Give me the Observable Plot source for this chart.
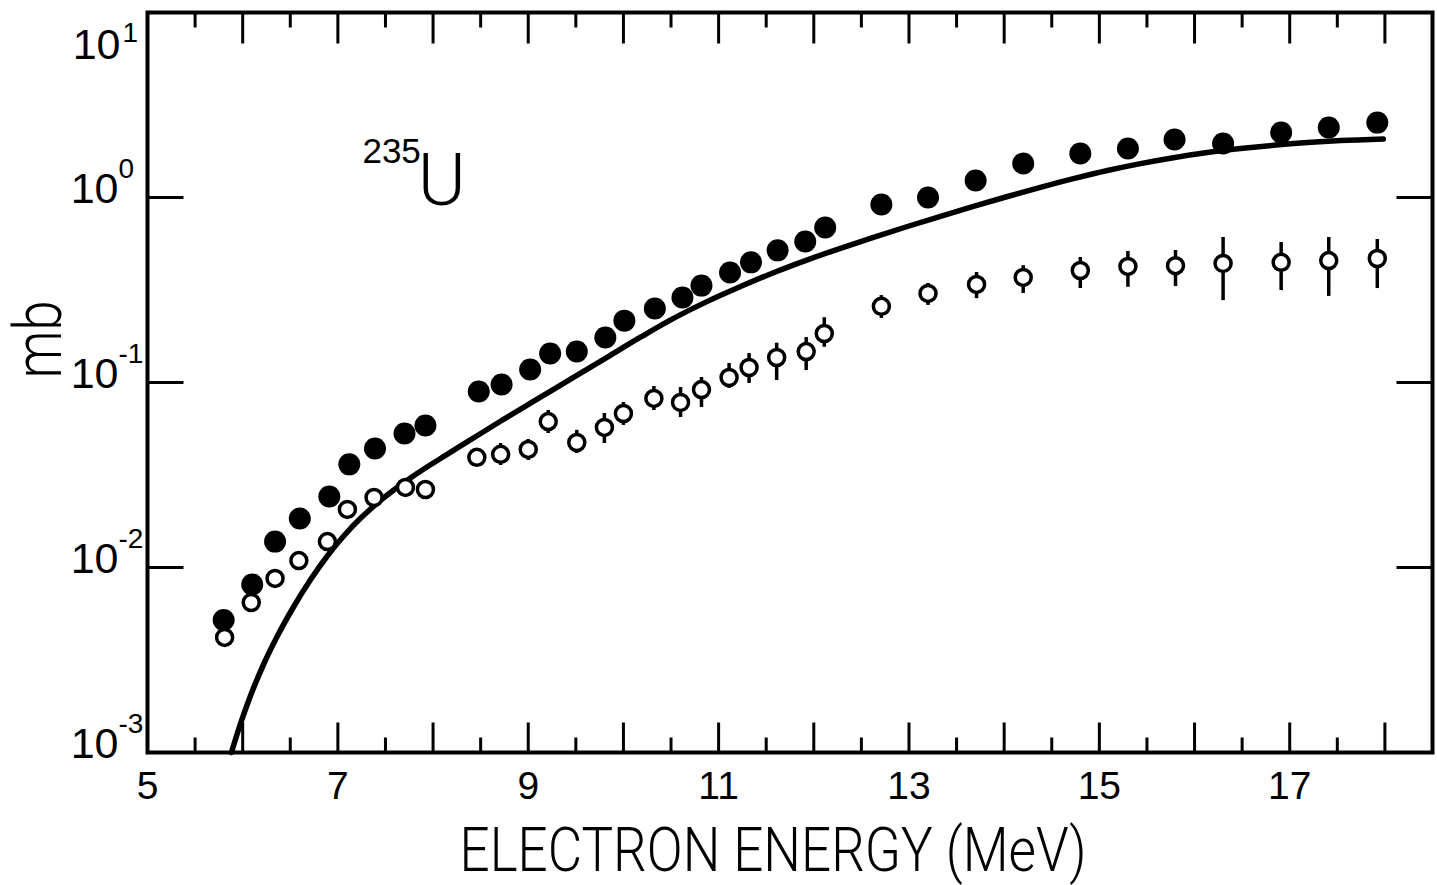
<!DOCTYPE html>
<html>
<head>
<meta charset="utf-8">
<script src="https://cdn.jsdelivr.net/npm/d3@7"></script>
<script src="https://cdn.jsdelivr.net/npm/@observablehq/plot@0.6"></script>
<style>
  html, body { margin: 0; padding: 0; background: #fff; }
  #chart svg { display: block; }
</style>
</head>
<body>
<div id="chart"></div>
<script>
// ---- data (235U, cross section in mb vs electron energy) ----
const filledEnergy = [5.80, 6.10, 6.34, 6.60, 6.91, 7.12, 7.39, 7.70, 7.92, 8.48, 8.72, 9.02, 9.23, 9.51, 9.81, 10.01, 10.33, 10.62, 10.82, 11.12, 11.34, 11.62, 11.91, 12.12, 12.71, 13.20, 13.70, 14.20, 14.80, 15.30, 15.79, 16.30, 16.91, 17.41, 17.92];
const filledSigma  = [0.0052, 0.0081, 0.0138, 0.0184, 0.0242, 0.0361, 0.0440, 0.0530, 0.0586, 0.0894, 0.0975, 0.1175, 0.1436, 0.147, 0.175, 0.216, 0.251, 0.288, 0.334, 0.393, 0.446, 0.518, 0.578, 0.689, 0.917, 1.00, 1.236, 1.527, 1.730, 1.841, 2.06, 1.96, 2.245, 2.39, 2.54];

const openEnergy = [5.81, 6.09, 6.34, 6.59, 6.89, 7.10, 7.38, 7.71, 7.92, 8.46, 8.71, 9.00, 9.21, 9.51, 9.80, 10.00, 10.32, 10.60, 10.82, 11.11, 11.32, 11.61, 11.92, 12.11, 12.71, 13.20, 13.71, 14.20, 14.80, 15.30, 15.80, 16.30, 16.91, 17.41, 17.92];
const openSigma  = [0.00419, 0.00647, 0.00873, 0.0109, 0.0138, 0.0206, 0.0239, 0.0271, 0.0264, 0.0394, 0.0409, 0.0435, 0.0615, 0.0474, 0.0572, 0.068, 0.082, 0.078, 0.0916, 0.1064, 0.1205, 0.1365, 0.147, 0.184, 0.258, 0.303, 0.339, 0.370, 0.403, 0.424, 0.428, 0.440, 0.446, 0.456, 0.468];
const openLow    = [null, null, null, null, null, null, null, null, null, null, 0.0356, 0.0379, 0.0530, 0.0413, 0.0468, 0.0586, 0.0706, 0.0647, 0.0733, 0.0929, 0.0988, 0.1025, 0.116, 0.155, 0.222, 0.261, 0.284, 0.303, 0.322, 0.327, 0.330, 0.277, 0.314, 0.292, 0.322];
const openHigh   = [null, null, null, null, null, null, null, null, null, null, 0.0468, 0.0492, 0.0706, 0.0551, 0.0680, 0.078, 0.0951, 0.0940, 0.1064, 0.1267, 0.1436, 0.163, 0.175, 0.224, 0.295, 0.343, 0.393, 0.428, 0.474, 0.511, 0.517, 0.608, 0.571, 0.608, 0.593];

const curveEnergy = [5.882, 5.977, 6.082, 6.219, 6.366, 6.534, 6.712, 6.891, 7.059, 7.238, 7.416, 7.584, 7.763, 7.973, 8.110, 8.362, 8.708, 9.129, 9.475, 9.832, 10.179, 10.526, 10.883, 11.230, 11.576, 11.933, 12.280, 12.627, 12.984, 13.331, 13.677, 14.035, 14.381, 14.728, 15.085, 15.432, 15.778, 16.135, 16.482, 16.829, 17.186, 17.533, 17.984];
const curveSigma  = [0.00100, 0.001431, 0.002028, 0.002990, 0.004273, 0.006117, 0.008582, 0.01158, 0.01476, 0.01844, 0.02232, 0.02617, 0.03047, 0.03590, 0.03977, 0.04786, 0.06176, 0.08326, 0.1066, 0.1373, 0.1757, 0.2221, 0.2745, 0.3299, 0.3922, 0.4605, 0.5314, 0.6085, 0.6970, 0.7914, 0.8951, 1.0125, 1.1352, 1.2637, 1.3991, 1.5246, 1.6411, 1.7487, 1.8378, 1.9152, 1.9806, 2.0305, 2.0741];

const xTickLabels = [5, 7, 9, 11, 13, 15, 17];
const xMajorTicks = [6, 7, 8, 9, 10, 11, 12, 13, 14, 15, 16, 17, 18];
const xMinorTicks = [5.5, 6.5, 7.5, 8.5, 9.5, 10.5, 11.5, 12.5, 13.5, 14.5, 15.5, 16.5, 17.5];
const yTicks = [0.001, 0.01, 0.1, 1, 10];
const yTickExponents = ["-3", "-2", "-1", "0", "1"];

const xLabel = "ELECTRON ENERGY (MeV)";
const yLabel = "mb";
const nuclideMass = "235";
const nuclideSymbol = "U";
const nuclidePos = { x: 7.84, y: 0.906 };

// ---- tables built from the arrays ----
const filled = filledEnergy.map((x, i) => ({ x, y: filledSigma[i] }));
const open = openEnergy.map((x, i) => ({ x, y: openSigma[i], lo: openLow[i], hi: openHigh[i] }));
const openErr = open.filter(d => d.lo != null);
const curve = curveEnergy.map((x, i) => ({ x, y: curveSigma[i] }));
const yLow = yTicks.map((v, i) => ({ v, e: yTickExponents[i] })).filter(d => d.v < 10);
const yTop = yTicks.map((v, i) => ({ v, e: yTickExponents[i] })).filter(d => d.v >= 10);

const tickShape = { draw(ctx, l) { ctx.moveTo(0, 0); ctx.lineTo(0, -l); } };
const numFont = "Liberation Sans, Arial, Helvetica, sans-serif";
const lightFont = "Roboto, Inter, Lato, 'Open Sans', sans-serif";

const tickOpts = { shape: tickShape, anchor: "start", strokeWidth: 3, strokeLinecap: "butt" };

const plot = Plot.plot({
  width: 1437,
  height: 885,
  marginLeft: 147,
  marginRight: 5,
  marginTop: 12,
  marginBottom: 133,
  style: { background: "#fff", color: "#000", fontFamily: numFont },
  x: { domain: [5, 18.5], axis: null },
  y: { type: "log", domain: [0.001, 10], axis: null },
  marks: [
    // theory curve
    Plot.line(curve, { x: "x", y: "y", curve: "monotone-x", stroke: "#000", strokeWidth: 5.5, strokeLinecap: "round", strokeLinejoin: "round" }),
    // error bars on open points
    Plot.ruleX(openErr, { x: "x", y1: "lo", y2: "hi", stroke: "#000", strokeWidth: 3.5 }),
    Plot.dot(open, { x: "x", y: "y", r: 8, fill: "#fff", stroke: "#000", strokeWidth: 3.5 }),
    Plot.dot(filled, { x: "x", y: "y", r: 11, fill: "#000", stroke: "none" }),
    // frame
    Plot.frame({ stroke: "#000", strokeWidth: 4 }),
    // inward ticks: bottom & top
    Plot.vector(xMajorTicks, { x: d => d, frameAnchor: "bottom", rotate: 0, length: 30, ...tickOpts }),
    Plot.vector(xMinorTicks, { x: d => d, frameAnchor: "bottom", rotate: 0, length: 15, ...tickOpts }),
    Plot.vector(xMajorTicks, { x: d => d, frameAnchor: "top", rotate: 180, length: 31, ...tickOpts }),
    Plot.vector(xMinorTicks, { x: d => d, frameAnchor: "top", rotate: 180, length: 15, ...tickOpts }),
    // inward ticks: left & right
    Plot.vector(yTicks, { y: d => d, frameAnchor: "left", rotate: 90, length: 36, ...tickOpts }),
    Plot.vector(yTicks, { y: d => d, frameAnchor: "right", rotate: -90, length: 36, ...tickOpts }),
    // x tick labels
    Plot.text(xTickLabels, { x: d => d, frameAnchor: "bottom", text: d => String(d), lineAnchor: "top", dy: 19, fontSize: 39, fontFamily: numFont, fill: "#000" }),
    // y tick labels (mantissa + exponent)
    Plot.text(yLow, { y: "v", frameAnchor: "left", text: () => "10", textAnchor: "end", lineAnchor: "middle", dx: -29, dy: -8, fontSize: 43, fontFamily: numFont, fill: "#000" }),
    Plot.text(yLow, { y: "v", frameAnchor: "left", text: "e", textAnchor: "start", lineAnchor: "middle", dx: -29, dy: -28, fontSize: 28, fontFamily: numFont, fill: "#000" }),
    Plot.text(yTop, { y: "v", frameAnchor: "left", text: () => "10", textAnchor: "end", lineAnchor: "middle", dx: -27, dy: 33, fontSize: 43, fontFamily: numFont, fill: "#000" }),
    Plot.text(yTop, { y: "v", frameAnchor: "left", text: "e", textAnchor: "start", lineAnchor: "middle", dx: -25, dy: 21, fontSize: 28, fontFamily: numFont, fill: "#000" }),
    // axis titles
    Plot.text([xLabel], { frameAnchor: "bottom", text: d => d, lineAnchor: "bottom", dy: 118, dx: -17, fontSize: 62, fontWeight: 300, fontFamily: lightFont, fill: "#000" }),
    Plot.text([yLabel], { frameAnchor: "left", text: d => d, rotate: -90, lineAnchor: "bottom", dx: -87, dy: -4, fontSize: 66, fontWeight: 300, fontFamily: lightFont, fill: "#000" }),
    // nuclide annotation
    Plot.text([nuclidePos], { x: "x", y: "y", text: () => nuclideSymbol, textAnchor: "start", lineAnchor: "bottom", fontSize: 73, fontWeight: 300, fontFamily: lightFont, fill: "#000" }),
    Plot.text([nuclidePos], { x: "x", y: "y", text: () => nuclideMass, textAnchor: "end", lineAnchor: "bottom", dx: 3, dy: -42, fontSize: 35, fontFamily: numFont, fill: "#000" })
  ]
});

// compress the condensed-looking titles to the reference widths
d3.select(plot).selectAll("text").each(function () {
  const t = this.textContent;
  if (t === xLabel) { this.setAttribute("textLength", 627); this.setAttribute("lengthAdjust", "spacingAndGlyphs"); }
  if (t === yLabel) { this.setAttribute("textLength", 78); this.setAttribute("lengthAdjust", "spacingAndGlyphs"); }
});

document.getElementById("chart").appendChild(plot);
</script>
</body>
</html>
